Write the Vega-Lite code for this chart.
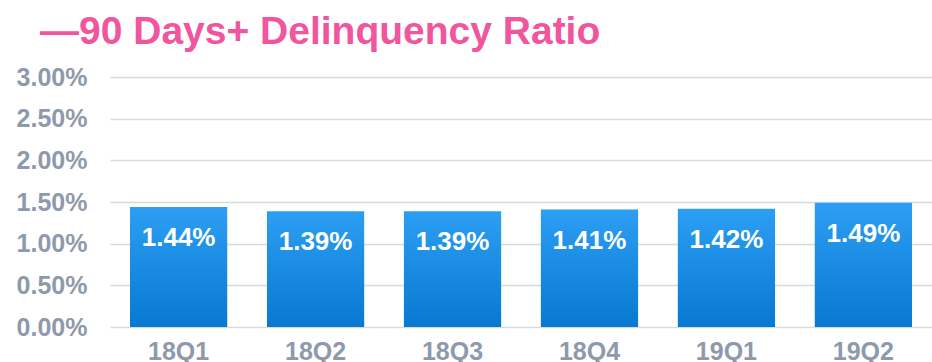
{
  "$schema": "https://vega.github.io/schema/vega-lite/v6.json",
  "autosize": "none",
  "width": 822,
  "height": 250,
  "padding": {"left": 110, "top": 77, "right": 0, "bottom": 35},
  "background": "white",
  "title": {
    "text": "—90 Days+ Delinquency Ratio",
    "anchor": "start",
    "frame": "group",
    "dx": -70,
    "offset": 13,
    "font": "Liberation Sans",
    "fontSize": 39,
    "fontWeight": "bold",
    "color": "#f0559e"
  },
  "config": {
    "view": {"stroke": null},
    "font": "Liberation Sans"
  },
  "data": {
    "values": [
      {"quarter": "18Q1", "ratio": 0.0144},
      {"quarter": "18Q2", "ratio": 0.0139},
      {"quarter": "18Q3", "ratio": 0.0139},
      {"quarter": "18Q4", "ratio": 0.0141},
      {"quarter": "19Q1", "ratio": 0.0142},
      {"quarter": "19Q2", "ratio": 0.0149}
    ]
  },
  "encoding": {
    "x": {
      "field": "quarter",
      "type": "ordinal",
      "sort": null,
      "scale": {"paddingInner": 0.29, "paddingOuter": 0.146},
      "axis": {
        "title": null,
        "labelAngle": 0,
        "domain": false,
        "ticks": false,
        "labelPadding": 12,
        "labelFontSize": 25,
        "labelFontWeight": "bold",
        "labelColor": "#8e9aab"
      }
    },
    "y": {
      "field": "ratio",
      "type": "quantitative",
      "scale": {"domain": [0, 0.03]},
      "axis": {
        "title": null,
        "values": [0, 0.005, 0.01, 0.015, 0.02, 0.025, 0.03],
        "format": ".2%",
        "domain": false,
        "ticks": false,
        "labelPadding": 23,
        "labelFontSize": 25,
        "labelFontWeight": "bold",
        "labelColor": "#8e9aab",
        "gridColor": "#d9d9d9",
        "gridWidth": 1.5
      }
    }
  },
  "layer": [
    {
      "mark": {
        "type": "bar",
        "color": {
          "gradient": "linear",
          "x1": 0, "y1": 0, "x2": 0, "y2": 1,
          "stops": [
            {"offset": 0, "color": "#2c9ef3"},
            {"offset": 1, "color": "#0879d2"}
          ]
        }
      }
    },
    {
      "mark": {
        "type": "text",
        "baseline": "alphabetic",
        "dy": 39,
        "fontSize": 26,
        "fontWeight": "bold",
        "color": "white"
      },
      "encoding": {
        "text": {"field": "ratio", "type": "quantitative", "format": ".2%"}
      }
    }
  ]
}
